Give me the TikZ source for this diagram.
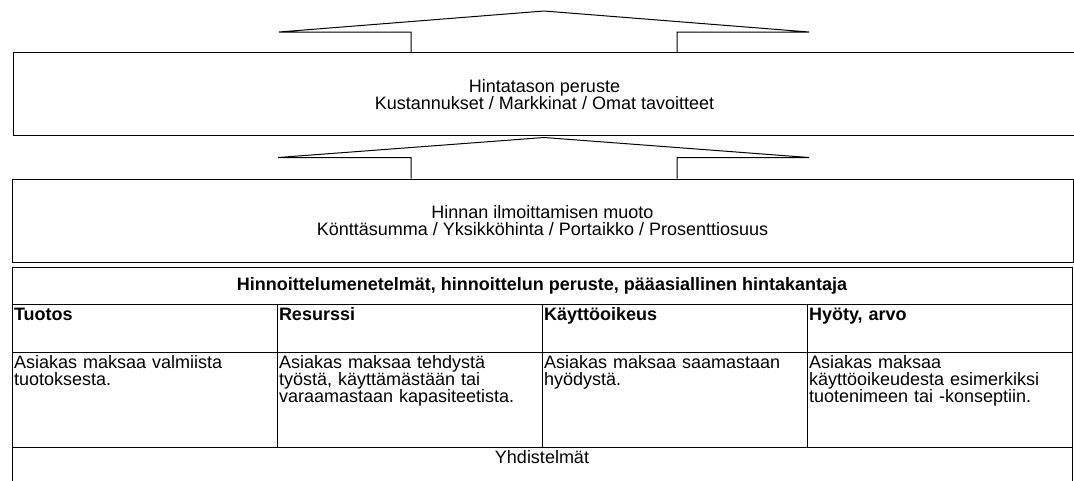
\documentclass[tikz,border=0pt]{standalone}
\usepackage{fontspec}
\setmainfont{Liberation Sans}
\usepackage{tikz}
\usetikzlibrary{calc}
\hyphenpenalty=10000
\exhyphenpenalty=10000
\tikzstyle{laatikko} = [rectangle, minimum width=796.5pt, minimum height=62.25pt, inner sep=0pt, align=center, draw=black]
\tikzstyle{otsikko} = [rectangle, anchor=north west, minimum width=795pt, minimum height=27.75pt, inner sep=0pt, outer sep=0pt, draw=black]
\tikzstyle{solu} = [rectangle, anchor=north west, text width=195.75pt, inner xsep=1.5pt, inner ysep=0pt, outer sep=0pt, align=left, text height=12pt, draw=black]
\tikzstyle{nuoli} = [line join=miter]

\begin{document}
\begin{tikzpicture}[x=0.75pt, y=-0.75pt, line width=0.75pt, font=\fontsize{13.5}{12.75}\selectfont]
				\useasboundingbox (0,0) rectangle (1074,480);
				\node (taso) at (544.5,94.2) [laatikko] {Hintatason peruste\\Kustannukset / Markkinat / Omat tavoitteet};
				\node (muoto) at (542.5,220.5) [laatikko, minimum width=795.75pt] {Hinnan ilmoittamisen muoto\\Könttäsumma / Yksikköhinta / Portaikko / Prosenttiosuus};
				\coordinate (k1) at (544,52.7);
				\coordinate (k2) at (taso.south -| k1);
				\coordinate (k3) at (k1 |- muoto.north);
				\draw[nuoli] ($(k1)+(-133,0)$) -- ++(0,-20.7) -- ++(-132,0) -- ($(k1)+(0,-41.7)$) -- ($(k1)+(265,-20.7)$) -- ++(-132,0) -- ++(0,20.7);
				\draw[nuoli] ($(k3)+(-133,0)$) -- ++(0,-21) -- ++(-133,0) -- ($(k2)+(0,1.3)$) -- ($(k3)+(265,-21)$) -- ++(-132,0) -- ++(0,21);
				% hinnoittelumenetelmat
				\node (menetelmat) at (12,267) [otsikko] {\bfseries Hinnoittelumenetelmät, hinnoittelun peruste, pääasiallinen hintakantaja};
				\node (tuotos) at (12,304) [solu, text depth=24pt] {\bfseries Tuotos};
				\node (resurssi) at (277,304) [solu, text depth=24pt] {\bfseries Resurssi};
				\node (kayttooikeus) at (542,304) [solu, text depth=24pt] {\bfseries Käyttöoikeus};
				\node (hyoty) at (807,304) [solu, text depth=24pt] {\bfseries Hyöty, arvo};
				\node (tuotosteksti) at (12,352) [solu, text depth=59.25pt] {Asiakas maksaa valmiista tuotoksesta.};
				\node (resurssiteksti) at (277,352) [solu, text depth=59.25pt] {Asiakas maksaa tehdystä työstä, käyttämästään tai varaamastaan kapasiteetista.};
				\node (kayttooikeusteksti) at (542,352) [solu, text depth=59.25pt] {Asiakas maksaa saamastaan hyödystä.};
				\node (hyotyteksti) at (807,352) [solu, text depth=59.25pt] {Asiakas maksaa käyttöoikeudesta esimerkiksi tuotenimeen tai -konseptiin.};
				\node (yhdistelmat) at (12,447) [solu, text width=792pt, align=center, text depth=14.25pt] {Yhdistelmät};
\end{tikzpicture}
\end{document}
